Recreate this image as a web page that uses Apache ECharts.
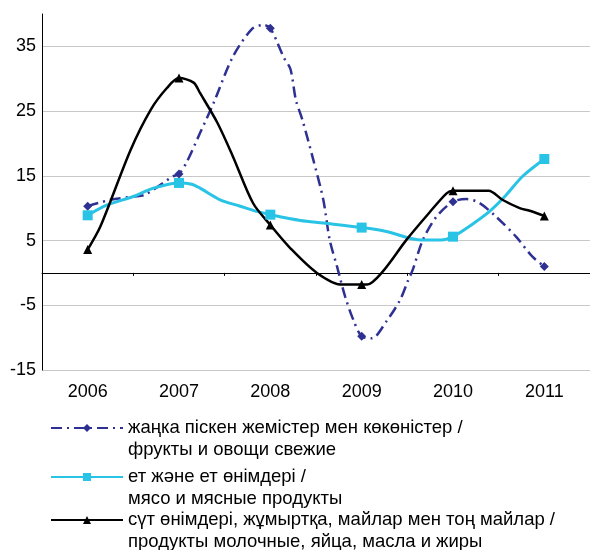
<!DOCTYPE html>
<html>
<head>
<meta charset="utf-8">
<script src="https://cdn.jsdelivr.net/npm/echarts@6/dist/echarts.min.js"></script>
<style>
html,body{margin:0;padding:0;background:#fff;}
#chart{width:590px;height:550px;}
</style>
</head>
<body>
<div id="chart"></div>
<script>
// Category labels
const years = ['2006', '2007', '2008', '2009', '2010', '2011'];
// Y axis ticks
const yMin = -15, yMax = 40, yStep = 10;

// Series names
const fruitName = 'жаңка піскен жемістер мен көкөністер /\nфрукты и овощи свежие';
const meatName = 'ет және ет өнімдері /\nмясо и мясные продукты';
const dairyName = 'сүт өнімдері, жұмыртқа, майлар мен тоң майлар /\nпродукты молочные, яйца, масла и жиры';

// Values: [year position, value]; markers at whole years
const fruitPoints = [
  [2006, 10.3], [2006.25, 11.3], [2006.5, 11.8], [2006.63, 12.1], [2006.93, 14.9],
  [2007, 15.3], [2007.08, 17], [2007.23, 21.6], [2007.38, 26.3], [2007.59, 33.4],
  [2007.8, 37.7], [2007.92, 38.3], [2008, 37.8], [2008.15, 33.2], [2008.22, 31.5],
  [2008.28, 26.7], [2008.35, 23.7], [2008.47, 17.5], [2008.58, 11.3], [2008.65, 5.1],
  [2008.73, 1.0], [2008.82, -3.7], [2008.91, -7.3], [2009, -9.8], [2009.11, -10.1],
  [2009.27, -7.5], [2009.42, -4.2], [2009.51, -1.1], [2009.56, 0.5], [2009.67, 5.1],
  [2009.82, 8.7], [2010, 11], [2010.15, 11.4], [2010.29, 10.8], [2010.47, 8.7],
  [2010.69, 5.6], [2010.87, 2.5], [2011, 1.0]
];
const meatPoints = [
  [2006, 8.9], [2006.215, 10.5], [2006.5, 11.8], [2006.72, 13.1], [2007, 13.9],
  [2007.14, 13.7], [2007.23, 13.1], [2007.45, 11.3], [2007.67, 10.3], [2007.85, 9.5],
  [2008, 9.0], [2008.33, 8.1], [2008.58, 7.7], [2009, 7.0], [2009.27, 6.4],
  [2009.64, 5.1], [2009.87, 5.1], [2010, 5.6], [2010.22, 7.6], [2010.4, 9.5],
  [2010.58, 12], [2010.76, 14.9], [2011, 17.6]
];
const dairyPoints = [
  [2006, 3.6], [2006.14, 7.2], [2006.47, 19], [2006.69, 25.2], [2006.87, 28.6],
  [2007, 30.1], [2007.16, 29.4], [2007.23, 27.8], [2007.42, 23.2], [2007.59, 18],
  [2007.81, 10.8], [2008, 7.4], [2008.22, 3.8], [2008.51, 0], [2008.78, -1.8],
  [2009, -1.8], [2009.06, -1.8], [2009.23, 0.2], [2009.49, 5.1], [2009.74, 9.3],
  [2009.93, 12.3], [2010, 12.7], [2010.39, 12.7], [2010.54, 11.3], [2010.73, 10],
  [2010.84, 9.6], [2011, 8.8]
];

const FONT = "'Liberation Sans', Arial, sans-serif";
const markerAt = (size) => (v) => (Number.isInteger(v[0]) ? size : 0);

const chart = echarts.init(document.getElementById('chart'), null, {renderer: 'canvas'});

function legendFor(name, top) {
  return {
    data: [name],
    left: 50,
    top: top,
    orient: 'vertical',
    padding: 0,
    itemWidth: 72,
    itemHeight: 10,
    selectedMode: false,
    // leading empty line keeps the icon level with the first text line
    formatter: (n) => '\n' + n,
    textStyle: {fontSize: 18.5, lineHeight: 22, color: '#000', fontFamily: FONT}
  };
}

chart.setOption({
  animation: false,
  textStyle: {fontFamily: FONT},
  grid: {left: 42, right: 0, top: 14, bottom: 180, containLabel: false},
  legend: [
    legendFor(fruitName, 395),
    legendFor(meatName, 444),
    legendFor(dairyName, 487)
  ],
  xAxis: [
    {
      type: 'category', data: years, position: 'bottom',
      axisLine: {show: false, onZero: false},
      axisTick: {show: false},
      axisLabel: {fontSize: 18, color: '#000', margin: 13, fontFamily: FONT},
      splitLine: {show: false}
    },
    {
      type: 'category', data: years, position: 'top',
      axisLine: {show: true, onZero: true, lineStyle: {color: '#000', width: 1}},
      axisTick: {show: true, inside: true, length: 3, lineStyle: {color: '#000'}},
      axisLabel: {show: false},
      splitLine: {show: false}
    },
    {
      type: 'value', min: 2005.5, max: 2011.5, show: false
    }
  ],
  yAxis: {
    type: 'value', min: yMin, max: yMax, interval: yStep,
    axisLine: {show: true, onZero: false, lineStyle: {color: '#000', width: 1}},
    axisTick: {show: false},
    axisLabel: {fontSize: 18, color: '#000', margin: 6, fontFamily: FONT, showMaxLabel: false},
    splitLine: {show: true, showMaxLine: false, lineStyle: {color: '#c8c8c8', width: 1}}
  },
  series: [
    {
      name: fruitName, type: 'line', xAxisIndex: 2, data: fruitPoints,
      smooth: 0.3, symbol: 'diamond', symbolSize: markerAt(9),
      lineStyle: {color: '#2e3192', width: 2.5, type: [11, 5, 2, 5]},
      itemStyle: {color: '#2e3192'}
    },
    {
      name: meatName, type: 'line', xAxisIndex: 2, data: meatPoints,
      smooth: 0.3, symbol: 'rect', symbolSize: markerAt(10),
      lineStyle: {color: '#29c3e6', width: 3},
      itemStyle: {color: '#29c3e6'}
    },
    {
      name: dairyName, type: 'line', xAxisIndex: 2, data: dairyPoints,
      smooth: 0.3, symbol: 'triangle', symbolSize: markerAt(9),
      lineStyle: {color: '#000', width: 2.5},
      itemStyle: {color: '#000'}
    }
  ]
});
</script>
</body>
</html>
